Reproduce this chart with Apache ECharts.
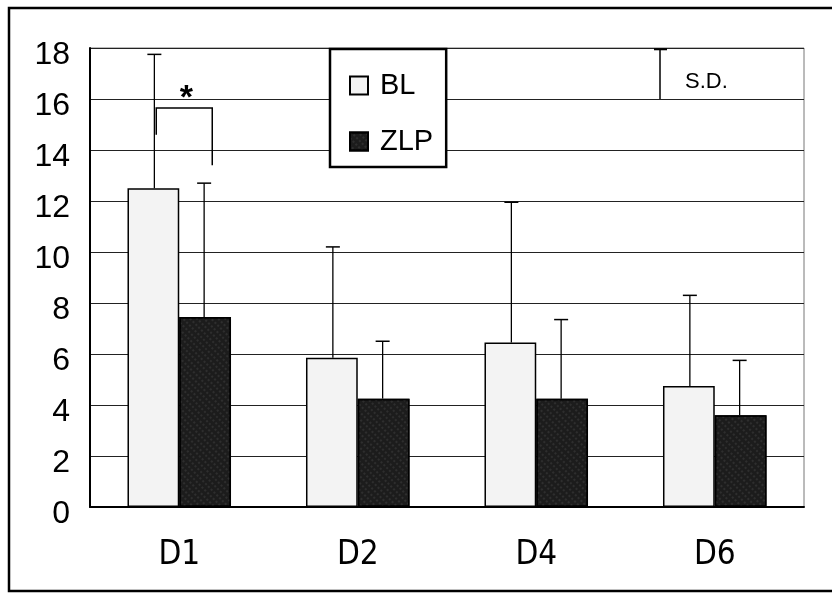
<!DOCTYPE html>
<html>
<head>
<meta charset="utf-8">
<script src="https://cdn.jsdelivr.net/npm/echarts@6/dist/echarts.min.js"></script>
<style>
  html, body { margin: 0; padding: 0; background: #fff; }
  #chart { width: 832px; height: 594px; }
</style>
</head>
<body>
<div id="chart"></div>
<script>
const categories = ['D1', 'D2', 'D4', 'D6'];
const blMean = [12.5, 5.85, 6.45, 4.75];
const zlpMean = [7.45, 4.25, 4.25, 3.6];
const blSD = [5.25, 4.35, 5.5, 3.55];
const zlpSD = [5.25, 2.25, 3.1, 2.15];
const yTicks = [0, 2, 4, 6, 8, 10, 12, 14, 16, 18];

const FONT = '"Liberation Sans", Arial, sans-serif';
const NARROW = '"Liberation Sans Narrow", "DejaVu Sans Condensed", "Liberation Sans", sans-serif';
const BAR_FRAC = 0.29;

function errData(means, sds) {
  return means.map((m, i) => [i, m, m + sds[i]]);
}

function errRender(side) {
  return function (params, api) {
    const i = api.value(0);
    const base = api.coord([i, api.value(1)]);
    const top = api.coord([i, api.value(2)]);
    const band = api.size([1, 0])[0];
    const x = base[0] + side * band * BAR_FRAC / 2 - side * 1;
    const cap = 7;
    return {
      type: 'group',
      children: [
        { type: 'line', shape: { x1: x, y1: base[1], x2: x, y2: top[1] },
          style: { stroke: '#000', lineWidth: 1.3 } },
        { type: 'line', shape: { x1: x - cap, y1: top[1], x2: x + cap, y2: top[1] },
          style: { stroke: '#000', lineWidth: 1.5 } }
      ]
    };
  };
}

const chart = echarts.init(document.getElementById('chart'), null, { renderer: 'canvas' });

const option = {
  animation: false,
  backgroundColor: '#fff',
  grid: { left: 90, right: 28, top: 48, bottom: 87, show: true, borderColor: '#777', borderWidth: 1, backgroundColor: 'transparent' },
  legend: {
    orient: 'vertical',
    left: 330, top: 49,
    padding: [22, 13, 11, 19],
    itemGap: 27,
    itemWidth: 18, itemHeight: 18,
    icon: 'rect',
    backgroundColor: '#fff',
    borderColor: '#000', borderWidth: 2.5,
    textStyle: { fontSize: 29, color: '#000', fontFamily: FONT, padding: [0, 0, 0, 7] },
    data: ['BL', 'ZLP'],
    z: 10
  },
  xAxis: {
    type: 'category',
    data: categories,
    axisLine: { lineStyle: { color: '#000', width: 2 } },
    axisTick: { inside: true, length: 9, lineStyle: { color: '#000', width: 1.5 } },
    axisLabel: { fontSize: 33, color: '#000', fontFamily: NARROW, margin: 32 }
  },
  yAxis: {
    type: 'value',
    min: 0, max: 18, interval: 2,
    axisLine: { show: true, lineStyle: { color: '#000', width: 2 } },
    axisTick: { show: false },
    axisLabel: {
      color: '#000', margin: 20,
      formatter: v => (yTicks.indexOf(v) >= 0 ? '{n|' + v + '}' : ''),
      rich: { n: { fontSize: 32, fontFamily: FONT, color: '#000', padding: [14, 0, 0, 0] } }
    },
    splitLine: { show: true, lineStyle: { color: '#222', width: 1.2 } }
  },
  series: [
    {
      name: 'BL', type: 'bar', data: blMean,
      barWidth: (BAR_FRAC * 100) + '%', barGap: '0%',
      itemStyle: { color: '#f3f3f3', borderColor: '#000', borderWidth: 1.5 },
      z: 2
    },
    {
      name: 'ZLP', type: 'bar', data: zlpMean,
      barWidth: (BAR_FRAC * 100) + '%', barGap: '0%',
      itemStyle: {
        color: '#1c1c1c', borderColor: '#000', borderWidth: 1.5,
        decal: { symbol: 'rect', symbolSize: 0.6, color: 'rgba(200,200,200,0.35)',
                 dashArrayX: [[2, 3]], dashArrayY: [2, 2], rotation: -0.78 }
      },
      z: 2
    },
    {
      name: 'BL SD', type: 'custom', renderItem: errRender(-1),
      data: errData(blMean, blSD), encode: { x: 0, y: [1, 2] }, z: 5, silent: true
    },
    {
      name: 'ZLP SD', type: 'custom', renderItem: errRender(1),
      data: errData(zlpMean, zlpSD), encode: { x: 0, y: [1, 2] }, z: 5, silent: true
    }
  ]
};

chart.setOption(option);

// annotations (significance bracket, S.D. key, outer frame)
const c = chart.convertToPixel({ gridIndex: 0 }, [0, 15.65]);
const lb = chart.convertToPixel({ gridIndex: 0 }, [0, 14.6]);
const rb = chart.convertToPixel({ gridIndex: 0 }, [0, 13.4]);
const sdTop = chart.convertToPixel({ gridIndex: 0 }, [0, 17.95]);
const sdBot = chart.convertToPixel({ gridIndex: 0 }, [0, 16]);
const lx = c[0] - 23, rx = c[0] + 33;

chart.setOption({
  graphic: [
    { type: 'polyline', z: 20,
      shape: { points: [[lx, lb[1]], [lx, c[1]], [rx, c[1]], [rx, rb[1]]] },
      style: { stroke: '#000', lineWidth: 1.5, fill: null } },
    { type: 'text', z: 20, x: c[0] + 7, y: c[1] - 9,
      style: { text: '*', font: 'bold 34px ' + FONT, fill: '#000', align: 'center', verticalAlign: 'middle' } },
    { type: 'line', z: 20, shape: { x1: 660, y1: sdTop[1], x2: 660, y2: sdBot[1] },
      style: { stroke: '#000', lineWidth: 1.5 } },
    { type: 'line', z: 20, shape: { x1: 654, y1: sdTop[1], x2: 667, y2: sdTop[1] },
      style: { stroke: '#000', lineWidth: 2 } },
    { type: 'text', z: 20, x: 685, y: 82,
      style: { text: 'S.D.', font: '22px ' + FONT, fill: '#000', align: 'left', verticalAlign: 'middle' } },
    { type: 'rect', z: 20, shape: { x: 9, y: 8, width: 840, height: 583 },
      style: { stroke: '#000', lineWidth: 2.5, fill: null } }
  ]
});
</script>
</body>
</html>
